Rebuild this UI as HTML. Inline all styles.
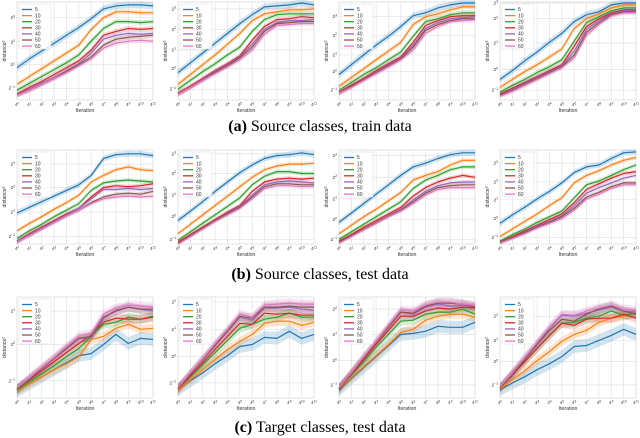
<!DOCTYPE html>
<html><head><meta charset="utf-8"><style>
html,body{margin:0;padding:0;background:#fff;}
svg{display:block;}
.cap{font-family:"Liberation Serif",serif;font-size:16px;fill:#000;}
.t{font-family:"Liberation Sans",sans-serif;fill:#333;}
</style></head><body>
<svg id="fig" width="640" height="438" viewBox="0 0 640 438">
<text class="cap" x="320" y="131" text-anchor="middle"><tspan font-weight="bold">(a)</tspan> Source classes, train data</text>
<text class="cap" x="320" y="279" text-anchor="middle"><tspan font-weight="bold">(b)</tspan> Source classes, test data</text>
<text class="cap" x="320" y="432" text-anchor="middle"><tspan font-weight="bold">(c)</tspan> Target classes, test data</text>
</svg>
<script>
const seriesLabels = ["5","10","20","30","40","50","60"];
const xTickLabels = ["0","1","2","3","4","5","6","7","8","9","10","11"];
const A1 = [[3.3,4.2,5.0,5.8,6.6,7.4,8.3,9.3,9.6,9.7,9.7,9.6],[1.6,2.4,3.2,4.0,4.8,5.6,7.2,8.4,9.0,9.0,8.9,8.9],[1.0,1.7,2.4,3.1,3.8,4.6,6.0,7.3,8.0,8.0,7.9,8.0],[0.6,1.3,1.9,2.6,3.3,4.0,5.1,6.6,7.0,7.3,7.2,7.3],[0.5,1.1,1.7,2.3,3.0,3.7,4.8,6.2,6.6,6.8,6.7,6.8],[0.5,1.0,1.6,2.2,2.9,3.6,4.4,5.6,6.2,6.4,6.5,6.6],[0.5,1.0,1.6,2.2,2.8,3.5,4.2,5.3,5.8,6.0,6.1,6.0]];
const A2 = [[2.8,3.8,4.8,5.8,6.8,7.8,8.7,9.5,9.6,9.7,9.9,9.7],[1.6,2.6,3.6,4.6,5.7,6.8,8.1,8.8,9.0,9.2,9.2,9.3],[1.1,2.0,2.9,3.7,4.6,5.4,7.0,8.2,8.7,8.8,8.8,8.8],[0.7,1.4,2.2,3.0,3.7,4.5,6.1,7.5,8.2,8.3,8.5,8.4],[0.6,1.3,2.1,2.9,3.6,4.4,5.7,7.2,7.9,8.1,8.1,8.2],[0.6,1.3,2.0,2.8,3.5,4.3,5.4,7.0,7.8,7.9,8.0,8.0],[0.6,1.3,2.0,2.7,3.4,4.1,5.1,6.7,7.6,7.7,7.8,7.8]];
const A3 = [[2.6,3.6,4.6,5.6,6.5,7.5,8.6,8.9,9.4,9.7,9.9,9.9],[1.4,2.3,3.2,4.1,5.0,5.9,7.7,8.5,8.8,9.2,9.5,9.5],[1.0,1.8,2.6,3.3,4.1,4.9,6.5,8.0,8.3,8.7,8.9,8.9],[0.8,1.5,2.2,3.0,3.7,4.4,5.9,7.6,8.1,8.5,8.6,8.6],[0.7,1.4,2.1,2.9,3.6,4.3,5.6,7.3,7.9,8.3,8.4,8.5],[0.7,1.4,2.1,2.8,3.5,4.2,5.4,7.1,7.7,8.1,8.3,8.3],[0.7,1.3,2.0,2.7,3.4,4.1,5.1,6.8,7.5,8.0,8.1,8.2]];
const A4 = [[2.1,3.0,4.0,4.9,5.9,6.8,8.0,8.7,9.0,9.7,9.9,9.9],[1.3,2.1,2.9,3.6,4.4,5.2,7.3,8.3,8.8,9.4,9.7,9.7],[0.8,1.5,2.1,2.8,3.4,4.1,6.0,7.9,8.5,9.1,9.4,9.4],[0.6,1.2,1.8,2.4,3.0,3.6,5.5,7.5,8.3,8.9,9.2,9.2],[0.5,1.1,1.7,2.3,2.9,3.5,5.0,7.2,8.1,8.8,9.1,9.1],[0.5,1.0,1.6,2.2,2.8,3.4,4.6,6.9,7.9,8.7,9.0,9.0],[0.4,0.9,1.5,2.1,2.7,3.3,4.3,6.6,7.7,8.6,8.9,8.9]];
const B1 = [[3.3,3.9,4.5,5.1,5.7,6.3,7.3,9.1,9.5,9.6,9.6,9.4],[1.4,2.2,2.9,3.7,4.4,5.2,6.6,7.3,7.9,8.2,7.9,7.8],[0.6,1.4,2.1,2.9,3.6,4.3,5.7,6.5,6.7,6.8,6.7,6.6],[0.3,1.1,1.8,2.5,3.2,3.8,5.0,6.0,6.2,6.1,6.2,6.4],[0.3,1.0,1.7,2.4,3.1,3.8,4.8,5.8,5.8,5.9,5.8,5.9],[0.2,0.9,1.6,2.3,3.0,3.6,4.4,5.0,5.3,5.4,5.3,5.6],[0.2,0.9,1.6,2.3,3.0,3.6,4.3,4.8,5.0,5.1,5.0,5.1]];
const B2 = [[2.5,3.5,4.5,5.6,6.6,7.6,8.4,9.1,9.4,9.5,9.7,9.5],[1.1,2.1,3.1,4.1,5.1,6.1,7.1,7.9,8.3,8.5,8.5,8.6],[0.4,1.3,2.2,3.1,4.0,4.9,6.3,7.2,7.7,7.7,7.5,7.5],[0.2,1.0,1.8,2.6,3.4,4.1,5.6,6.6,6.9,7.0,6.9,7.0],[0.1,0.9,1.7,2.5,3.3,4.0,5.2,6.3,6.6,6.7,6.6,6.5],[0.1,0.9,1.7,2.5,3.2,3.9,5.0,6.1,6.4,6.4,6.3,6.3],[0.0,0.8,1.6,2.4,3.1,3.8,4.8,5.9,6.2,6.2,6.1,6.1]];
const B3 = [[2.3,3.3,4.3,5.3,6.3,7.3,8.2,8.6,9.1,9.5,9.7,9.7],[1.1,2.0,2.9,3.7,4.6,5.5,6.8,7.3,7.7,8.4,8.9,8.9],[0.5,1.3,2.1,2.9,3.7,4.5,5.9,6.8,7.3,7.9,8.2,8.2],[0.3,1.0,1.8,2.5,3.2,3.9,5.1,6.0,6.6,7.0,7.3,7.1],[0.2,0.9,1.6,2.3,3.0,3.7,4.7,5.6,6.2,6.5,6.6,6.6],[0.2,0.9,1.6,2.3,3.0,3.6,4.5,5.4,6.0,6.2,6.3,6.3],[0.1,0.8,1.5,2.2,2.9,3.5,4.3,5.2,5.8,6.0,6.0,6.0]];
const B4 = [[2.2,3.1,3.9,4.8,5.6,6.5,7.6,8.2,8.4,9.1,9.7,9.8],[0.8,1.6,2.4,3.2,4.1,4.9,6.5,7.3,7.8,8.4,8.9,9.2],[0.3,1.0,1.6,2.3,2.9,3.5,4.9,6.3,6.7,7.3,7.9,8.4],[0.2,0.8,1.4,2.0,2.6,3.2,4.4,5.8,6.4,7.0,7.5,7.7],[0.2,0.7,1.3,1.9,2.4,3.0,4.1,5.4,6.0,6.5,7.0,7.3],[0.2,0.7,1.2,1.8,2.3,2.9,3.8,5.0,5.5,6.1,6.5,6.5],[0.1,0.6,1.1,1.7,2.2,2.7,3.6,4.8,5.3,5.9,6.3,6.3]];
const C1 = [[0.7,1.4,2.1,2.8,3.5,4.2,4.4,5.3,6.3,5.4,5.9,5.8],[0.7,1.4,2.1,2.8,3.4,4.1,5.8,6.1,6.9,7.3,6.8,6.9],[0.8,1.6,2.4,3.2,4.1,4.9,6.1,7.3,7.5,8.0,7.8,8.1],[0.9,1.8,2.7,3.6,4.5,5.4,6.2,7.5,7.9,7.8,7.8,8.0],[0.9,1.9,2.9,3.9,4.9,5.9,6.0,7.9,8.7,9.0,8.8,8.6],[0.9,1.9,2.9,3.9,4.9,5.9,6.1,8.0,8.6,9.0,8.8,8.8],[1.0,2.0,3.0,4.0,5.1,6.1,6.4,8.3,8.9,9.2,9.1,9.0]];
const C2 = [[0.8,1.7,2.5,3.4,4.2,5.1,5.3,6.0,5.9,6.6,5.9,6.3],[0.8,1.8,2.8,3.8,4.8,5.6,6.3,7.4,7.6,7.6,7.2,7.5],[0.9,2.1,3.3,4.5,5.7,6.9,7.3,7.8,8.0,8.4,8.0,8.0],[0.9,2.2,3.5,4.8,6.1,7.4,7.3,8.4,8.3,8.4,8.2,8.2],[1.0,2.4,3.8,5.2,6.6,8.0,7.7,8.9,8.9,9.0,8.8,8.7],[1.0,2.4,3.8,5.2,6.6,8.1,7.9,9.0,9.0,9.1,9.0,9.0],[1.0,2.5,3.9,5.4,6.8,8.3,8.0,9.2,9.3,9.4,9.3,9.3]];
const C3 = [[0.8,1.9,3.0,4.1,5.2,6.3,6.4,6.6,7.1,7.0,7.0,7.5],[0.9,2.0,3.1,4.2,5.3,6.5,6.8,7.7,8.1,8.3,8.3,8.0],[0.9,2.3,3.6,5.0,6.3,7.6,7.7,8.3,8.5,8.5,8.8,8.3],[0.9,2.4,3.8,5.3,6.7,8.1,8.1,8.6,8.9,8.8,9.0,8.9],[1.0,2.5,4.0,5.5,7.0,8.5,8.3,9.0,9.3,9.1,9.2,9.0],[1.0,2.5,4.0,5.5,7.0,8.5,8.4,9.1,9.4,9.4,9.3,9.0],[1.0,2.5,4.1,5.6,7.2,8.7,8.6,9.2,9.5,9.5,9.3,9.2]];
const C4 = [[0.8,1.5,2.1,2.8,3.4,4.1,5.1,5.2,5.7,6.2,6.8,6.3],[0.9,1.8,2.7,3.7,4.6,5.6,6.3,6.7,7.5,7.9,8.1,8.4],[1.0,2.3,3.6,4.9,6.2,7.4,7.5,7.9,8.1,8.6,8.2,8.4],[1.0,2.3,3.6,4.9,6.2,7.4,7.2,7.8,7.9,7.9,8.3,7.9],[1.0,2.5,4.0,5.4,6.9,8.2,8.1,8.4,8.7,9.0,8.6,8.5],[1.0,2.4,3.8,5.3,6.7,7.8,7.6,8.3,8.8,9.1,8.6,8.3],[1.1,2.5,4.0,5.5,7.0,8.3,8.2,8.6,8.9,9.2,8.8,8.7]];
const yTickValsA1 = [8.4,5.9,3.6,1.2], yTickLabA1 = ["3","2","1","−1"];
const yTickValsA2 = [9.3,7.2,5.1,3.2,1.1], yTickLabA2 = ["3","2","1","0","−1"];
const yTickValsA3 = [8.5,6.6,4.6,2.9,1.0], yTickLabA3 = ["3","2","1","0","−1"];
const yTickValsA4 = [9.9,8.3,5.8,3.1,1.0], yTickLabA4 = ["3","2","1","0","−1"];
const yTickValsB1 = [8.5,6.0,3.4,0.8], yTickLabB1 = ["3","2","1","−1"];
const yTickValsB2 = [9.6,7.5,5.2,2.9,0.5], yTickLabB2 = ["3","2","1","0","−1"];
const yTickValsB3 = [9.4,7.1,4.8,2.6,0.5], yTickLabB3 = ["3","2","1","0","−1"];
const yTickValsB4 = [8.6,6.6,4.7,2.7,0.7], yTickLabB4 = ["3","2","1","0","−1"];
const yTickValsC1 = [8.6,5.3,1.7], yTickLabC1 = ["1","0","−1"];
const yTickValsC2 = [9.5,6.8,4.1,1.5], yTickLabC2 = ["2","1","0","−1"];
const yTickValsC3 = [8.8,6.3,3.7,1.3], yTickLabC3 = ["2","1","0","−1"];
const yTickValsC4 = [8.1,5.7,3.6,1.3], yTickLabC4 = ["2","1","0","−1"];

const colors = ["#1f77b4","#ff7f0e","#2ca02c","#d62728","#9467bd","#8c564b","#e377c2"];
const NS = "http://www.w3.org/2000/svg";
const svg = document.getElementById('fig');
function mk(tag, attrs, parent){const e=document.createElementNS(NS,tag);for(const k in attrs)e.setAttribute(k,attrs[k]);(parent||svg).appendChild(e);return e;}

const colX=[17,178,339,500], rowTop=[2,150,297], rowH=[98,94,101], W=136;
const bandW=[0.25,0.22,0.45];
const plots=[
 [A1,yTickValsA1,yTickLabA1],[A2,yTickValsA2,yTickLabA2],[A3,yTickValsA3,yTickLabA3],[A4,yTickValsA4,yTickLabA4],
 [B1,yTickValsB1,yTickLabB1],[B2,yTickValsB2,yTickLabB2],[B3,yTickValsB3,yTickLabB3],[B4,yTickValsB4,yTickLabB4],
 [C1,yTickValsC1,yTickLabC1],[C2,yTickValsC2,yTickLabC2],[C3,yTickValsC3,yTickLabC3],[C4,yTickValsC4,yTickLabC4]];

plots.forEach((p,i)=>{
 const r=Math.floor(i/4), c=i%4;
 const x0=colX[c], y0=rowTop[r], H=rowH[r];
 const xs=v=>x0+v/(xTickLabels.length-1)*W;
 const ys=v=>y0+H-v/10*H;
 const g=mk('g',{});
 
 
 mk('rect',{x:x0,y:y0,width:W,height:H,fill:'#fff',stroke:'#d8d8d8','stroke-width':0.7},g);
 xTickLabels.forEach((t,k)=>{
  mk('line',{x1:xs(k),x2:xs(k),y1:y0,y2:y0+H,stroke:'#e2e2e2','stroke-width':0.7},g);
  const tx=mk('text',{x:xs(k),y:y0+H+6,'font-size':4.3,'text-anchor':'middle',class:'t'},g);
  
  
  tx.innerHTML='4<tspan dy="-1.5" font-size="3.2">'+t+'</tspan>';
 });
 p[1].forEach((v,k)=>{
  mk('line',{x1:x0,x2:x0+W,y1:ys(v),y2:ys(v),stroke:'#e2e2e2','stroke-width':0.7},g);
  const ty=mk('text',{x:x0-2,y:ys(v)+1.5,'font-size':4.8,'text-anchor':'end',class:'t'},g);
  
  
  ty.innerHTML='2<tspan dy="-1.8" font-size="3.4">'+p[2][k]+'</tspan>';
 });
 const xl=mk('text',{x:x0+W/2,y:y0+H+12,'font-size':5.2,'text-anchor':'middle',class:'t'},g);
 
 
 xl.textContent='Iteration';
 const yl=mk('text',{x:0,y:0,'font-size':5.2,'text-anchor':'middle',class:'t',transform:'translate('+(x0-11)+','+(y0+H/2)+') rotate(-90)'},g);
 
 
 yl.textContent='distance²';
 const bw=bandW[r];
 p[0].forEach((s,j)=>{
  let up='',lo='';
  s.forEach((v,k)=>{up+=(k?'L':'M')+xs(k).toFixed(1)+','+ys(v+bw*(j==0?1.4:1)).toFixed(1);});
  for(let k=s.length-1;k>=0;k--){lo+='L'+xs(k).toFixed(1)+','+ys(s[k]-bw*(j==0?1.4:1)).toFixed(1);}
  const band=mk('path',{d:up+lo+'Z',fill:colors[j],'fill-opacity':0.2,stroke:'none'},g);
  
  
 });
 p[0].forEach((s,j)=>{
  let d='';
  s.forEach((v,k)=>{d+=(k?'L':'M')+xs(k).toFixed(1)+','+ys(v).toFixed(1);});
  const ln=mk('path',{d:d,fill:'none',stroke:colors[j],'stroke-width':1.2,'stroke-linejoin':'round'},g);
  
  
 });
 const lg=mk('g',{},g);
 
 
 mk('rect',{x:x0+2,y:y0+2,width:32,height:45,fill:'#fff','fill-opacity':0.85,stroke:'#ddd','stroke-width':0.5,rx:1},lg);
 seriesLabels.forEach((t,j)=>{
  const yy=y0+7.5+j*6.1;
  mk('line',{x1:x0+5,x2:x0+15,y1:yy,y2:yy,stroke:colors[j],'stroke-width':1.3},lg);
  const lt=mk('text',{x:x0+18,y:yy+1.7,'font-size':5,class:'t'},lg);
  
  
  lt.textContent=t;
 });
});
</script>
</body></html>
